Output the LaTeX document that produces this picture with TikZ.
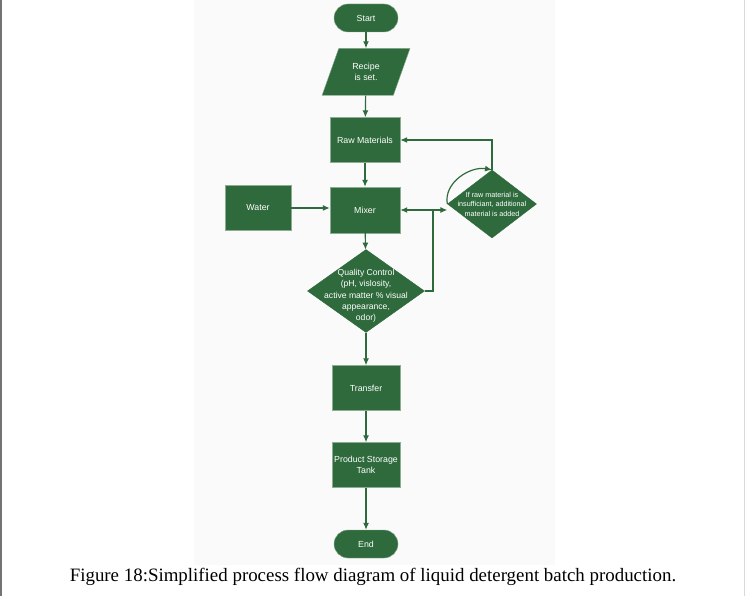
\documentclass[tikz,border=0pt]{standalone}
\usepackage{fontspec}
\setmainfont{Liberation Serif}
\setsansfont{Liberation Sans}
\usepackage{tikz}
\usepackage{xcolor}
\usetikzlibrary{shapes.geometric, arrows.meta}

\definecolor{flowgreen}{RGB}{46,106,60}

\begin{document}
\begin{tikzpicture}[
            x=1pt, y=-1pt,
            >={Latex[length=7pt, width=6pt]},
            declare function={
                colx=366;
                Width=745;
                Height=596;
            },
            box/.style={draw=flowgreen!55!white, fill=flowgreen, text=white, font=\sffamily\fontsize{8.8}{10.8}\selectfont,
                minimum width=68pt, minimum height=45pt, inner sep=1pt, align=center},
            terminal/.style={box, minimum width=64pt, minimum height=28pt, rounded corners=14pt},
            recipebox/.style={box, trapezium, trapezium left angle=65, trapezium right angle=115,
                trapezium stretches=true, minimum width=88pt, minimum height=47pt},
            decision/.style={draw=flowgreen, fill=flowgreen, diamond, inner sep=0pt},
            flow/.style={flowgreen, line width=1.2pt}
        ]

            \useasboundingbox (0,0) rectangle (Width, Height);
            \fill[black!2] (194,0) rectangle (555,565);
            \draw[black!55, line width=1.2pt] (1,0) -- (1,Height);
            \draw[black!15, line width=1pt] (744,0) -- (744,Height);

            % main column
            \node[terminal] (start) at (colx, 18) {Start};
            \node[recipebox] (recipe) at (colx, 72) {Recipe\\is set.};
            \node[box, minimum width=70pt] (raw) at (365, 140) {Raw Materials};
            \node[box, minimum width=70pt, minimum height=46pt] (mixer) at (365, 210) {Mixer};
            \node[box, minimum width=66pt] (water) at (258, 208) {Water};
            \node[decision, minimum width=117pt, minimum height=83pt,
                label={[text=white, yshift=-5pt, font=\sffamily\fontsize{8.6}{11.3}\selectfont, align=center]center:Quality Control\\(pH, vislosity,\\active matter \% visual\\appearance,\\odor)}]
                (qc) at (colx, 291) {};
            \node[decision, minimum width=89pt, minimum height=68pt,
                label={[text=white, font=\sffamily\fontsize{7.2}{9.5}\selectfont, align=center]center:If raw material is\\insufficiant, additional\\material is added}]
                (check) at (492, 204) {};
            \node[box] (transfer) at (colx, 388) {Transfer};
            \node[box] (tank) at (colx, 465) {Product Storage\\Tank};
            \node[terminal] (end) at (colx, 544) {End};

            \draw[flow, ->] (start) -- (recipe);
            \draw[flow, ->] (recipe) -- (raw);
            \draw[flow, ->] (raw) -- (mixer);
            \draw[flow, ->] (water) -- (water -| mixer.west);
            \draw[flow, ->] (mixer) -- (qc);
            \draw[flow, ->] (qc) -- (transfer);
            \draw[flow, ->] (transfer) -- (tank);
            \draw[flow, ->] (tank) -- (end);

            % loop back from quality control
            \coordinate (jn) at (433, 210);
            \draw[flow] (qc.east) -| (jn);
            \draw[flow, ->] (jn) -- (mixer.east);
            \draw[flow, ->] (jn) -- (jn -| check.west);
            \draw[flow, ->] (check.north) |- (raw.east);
            \draw[flow, ->] (check.west) to[out=100, in=170] (check.north);

            \node[font=\fontsize{18.9}{21}\selectfont] (caption) at (373, 577)
                {Figure 18:Simplified process flow diagram of liquid detergent batch production.};
        \end{tikzpicture}
\end{document}
